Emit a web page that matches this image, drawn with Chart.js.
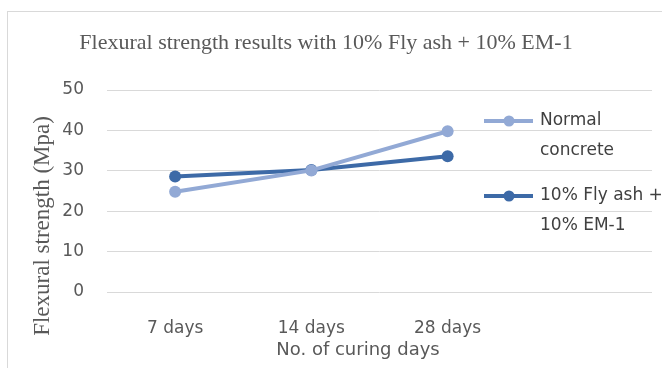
<!DOCTYPE html>
<html>
<head>
<meta charset="utf-8">
<script src="https://cdn.jsdelivr.net/npm/chart.js@4/dist/chart.umd.min.js"></script>
<style>
  html, body { margin: 0; padding: 0; background: #fff; }
  #wrap { width: 662px; height: 368px; position: relative; }
</style>
</head>
<body>
<div id="wrap"><canvas id="c"></canvas></div>
<script>
// Curing ages (the trailing blank slot leaves room for the legend)
const curingDays = ['7 days', '14 days', '28 days', ''];
const normalConcrete = [24.8, 30.1, 39.8, null];
const flyAshEM = [28.6, 30.2, 33.6, null];
const seriesNames = [['Normal', 'concrete'], ['10% Fly ash +', '10% EM-1']];
const yTicks = [0, 10, 20, 30, 40, 50];
const chartTitle = 'Flexural strength results with 10% Fly ash + 10% EM-1';
const xTitle = 'No. of curing days';
const yTitle = 'Flexural strength (Mpa)';

const LIGHT = '#92a9d5';
const DARK = '#3d6aa7';
const SANS = '"DejaVu Sans", sans-serif';
const SERIF = '"Liberation Serif", serif';

// Frame, axis captions and the wrapped legend
const decorations = {
  id: 'decorations',
  beforeDraw(chart) {
    const ctx = chart.ctx;
    ctx.save();
    ctx.strokeStyle = '#d9d9d9';
    ctx.lineWidth = 1;
    ctx.strokeRect(7.5, 11.5, 720, 420);
    ctx.restore();
  },
  afterDraw(chart) {
    const ctx = chart.ctx;
    const area = chart.chartArea;
    ctx.save();
    // x-axis caption
    ctx.fillStyle = '#595959';
    ctx.font = '18px ' + SANS;
    ctx.textAlign = 'center';
    ctx.textBaseline = 'middle';
    ctx.fillText(xTitle, area.left + 251, 350);
    // y-axis caption
    ctx.translate(43, 226);
    ctx.rotate(-Math.PI / 2);
    ctx.font = '23px ' + SERIF;
    ctx.fillText(yTitle, 0, 0);
    ctx.restore();

    // legend
    ctx.save();
    chart.data.datasets.forEach((ds, i) => {
      const y = 121 + i * 75;
      ctx.strokeStyle = ds.borderColor;
      ctx.lineWidth = 4;
      ctx.beginPath();
      ctx.moveTo(484, y);
      ctx.lineTo(533, y);
      ctx.stroke();
      ctx.fillStyle = ds.borderColor;
      ctx.beginPath();
      ctx.arc(509, y, 5.5, 0, Math.PI * 2);
      ctx.fill();
      ctx.fillStyle = '#404040';
      ctx.font = '17px ' + SANS;
      ctx.textAlign = 'left';
      ctx.textBaseline = 'middle';
      seriesNames[i].forEach((line, k) => ctx.fillText(line, 540, y + k * 29.5));
    });
    ctx.restore();
  }
};

new Chart(document.getElementById('c'), {
  type: 'line',
  data: {
    labels: curingDays,
    datasets: [
      { label: seriesNames[0].join(' '), data: normalConcrete, borderColor: LIGHT, backgroundColor: LIGHT },
      { label: seriesNames[1].join(' '), data: flyAshEM, borderColor: DARK, backgroundColor: DARK }
    ]
  },
  options: {
    responsive: true,
    maintainAspectRatio: false,
    animation: false,
    events: [],
    layout: { padding: { left: 0, right: 10, top: 0, bottom: 0 } },
    elements: {
      line: { borderWidth: 4, tension: 0 },
      point: { radius: 6, borderWidth: 0, hoverRadius: 6 }
    },
    plugins: {
      legend: { display: false },
      tooltip: { enabled: false },
      title: {
        display: true,
        text: chartTitle,
        color: '#595959',
        font: { family: SERIF, size: 22, weight: 'normal' },
        padding: { top: 30, bottom: 33.6 }
      }
    },
    scales: {
      x: {
        offset: true,
        grid: { display: false, drawTicks: false },
        border: { display: false },
        ticks: { color: '#595959', font: { family: SANS, size: 17 }, padding: 26, maxRotation: 0, autoSkip: false },
        afterFit(scale) { scale.height = 76; }
      },
      y: {
        min: 0,
        max: 50,
        afterBuildTicks(scale) { scale.ticks = yTicks.map(v => ({ value: v })); },
        grid: { color: '#d9d9d9', lineWidth: 1, drawTicks: false },
        border: { display: false },
        ticks: { color: '#595959', font: { family: SANS, size: 17 }, padding: 23 },
        afterFit(scale) { scale.width = 107; }
      }
    }
  },
  plugins: [decorations]
});
</script>
</body>
</html>
